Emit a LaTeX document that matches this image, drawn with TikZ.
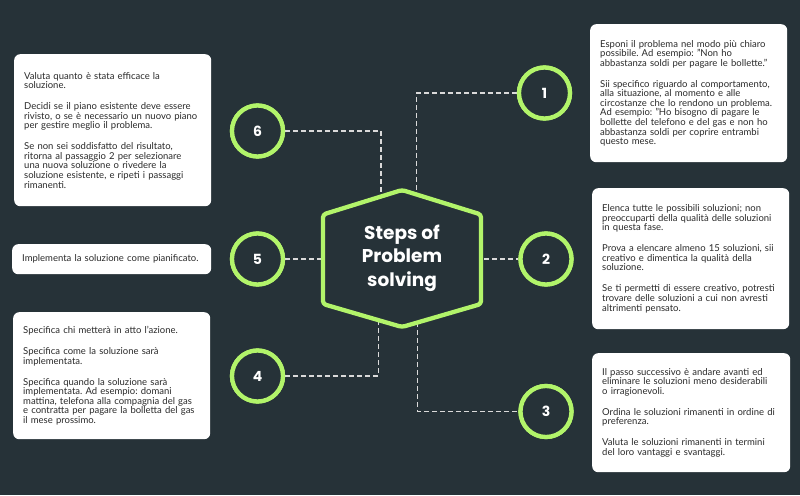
\documentclass[tikz,border=0pt]{standalone}
\usepackage{fontspec}
\setmainfont{Lato}
\newfontfamily\titlefont{Poppins}
\definecolor{bg}{HTML}{263238}
\definecolor{lime}{HTML}{B2F46A}
\definecolor{dashc}{HTML}{DADADA}
\definecolor{txt}{HTML}{2A2A2A}
\tikzset{
  numcirc/.style={circle, draw=lime, line width=4.3pt, fill=bg, minimum size=51pt, inner sep=0pt, text=white, font=\titlefont\bfseries\fontsize{14}{14}\selectfont},
  infobox/.style={fill=white, rounded corners=6pt, align=left, text=txt, font=\frenchspacing\fontsize{9.5}{9.6}\selectfont, inner xsep=10pt, inner ysep=0pt, anchor=north west},
  link/.style={draw=dashc, line width=1.1pt, dash pattern=on 5pt off 3pt},
  hexline/.style={draw=lime, line width=4.3pt, fill=bg, rounded corners=3pt, line join=round},
  titletext/.style={align=center, text=white, font=\titlefont\bfseries\fontsize{18.5}{23.5}\selectfont}
}
\newcommand{\pbreak}{\\[11.3pt]}
\begin{document}
\begin{tikzpicture}[x=1pt,y=-1pt]
\fill[bg] (0,0) rectangle (800,495);
\useasboundingbox (0,0) rectangle (800,495);

% hexagon geometry
\coordinate (hT) at (402,190);
\coordinate (hUR) at (481,214.5);
\coordinate (hLR) at (481,304);
\coordinate (hB) at (402,327);
\coordinate (hLL) at (323,304);
\coordinate (hUL) at (323,214.5);
% connector ends hidden under hexagon
\coordinate (h1) at (416.7,235);
\coordinate (h6) at (381,235);
\coordinate (h5) at (345,259);
\coordinate (h2) at (460,259);
\coordinate (h4) at (378.3,290);
\coordinate (h3) at (417.7,290);

% circles (placed first as names; drawn again on top)
\path (544.5,93) node[numcirc] (c1) {1}
      (546,259) node[numcirc] (c2) {2}
      (546,411.5) node[numcirc] (c3) {3}
      (257.5,376) node[numcirc] (c4) {4}
      (257.5,259) node[numcirc] (c5) {5}
      (257.5,131) node[numcirc] (c6) {6};

% connectors
\draw[link] (c1.west) -| (h1);
\draw[link] (c6.east) -| (h6);
\draw[link] (c5.east) -- (h5);
\draw[link] (h2) -- (c2.west);
\draw[link] (c4.east) -| (h4);
\draw[link] (h3) |- (c3.west);

% redraw circles over the connectors
\path (544.5,93) node[numcirc] {1}
      (546,259) node[numcirc] {2}
      (546,411.5) node[numcirc] {3}
      (257.5,376) node[numcirc] {4}
      (257.5,259) node[numcirc] {5}
      (257.5,131) node[numcirc] {6};

% hexagon
\draw[hexline] (hT) -- (hUR) -- (hLR) -- (hB) -- (hLL) -- (hUL) -- cycle;
\node[titletext] (hex) at (402,258) {Steps of\\Problem\\solving};

% boxes
\node[infobox, text width=177pt, minimum width=197pt, minimum height=152pt] (b6) at (14,54) {%
Valuta quanto è stata efficace la\\
soluzione.\pbreak
Decidi se il piano esistente deve essere\\
rivisto, o se è necessario un nuovo piano\\
per gestire meglio il problema.\pbreak
Se non sei soddisfatto del risultato,\\
ritorna al passaggio 2 per selezionare\\
una nuova soluzione o rivedere la\\
soluzione esistente, e ripeti i passaggi\\
rimanenti.};

\node[infobox, text width=177pt, minimum width=197pt, minimum height=138pt] (b1) at (590,24) {%
Esponi il problema nel modo più chiaro\\
possibile. Ad esempio: "Non ho\\
abbastanza soldi per pagare le bollette."\pbreak
Sii specifico riguardo al comportamento,\\
alla situazione, al momento e alle\\
circostanze che lo rendono un problema.\\
Ad esempio: "Ho bisogno di pagare le\\
bollette del telefono e del gas e non ho\\
abbastanza soldi per coprire entrambi\\
questo mese.};

\node[infobox, text width=177pt, minimum width=197pt, minimum height=141pt] (b2) at (592,188) {%
Elenca tutte le possibili soluzioni; non\\
preoccuparti della qualità delle soluzioni\\
in questa fase.\pbreak
Prova a elencare almeno 15 soluzioni, sii\\
creativo e dimentica la qualità della\\
soluzione.\pbreak
Se ti permetti di essere creativo, potresti\\
trovare delle soluzioni a cui non avresti\\
altrimenti pensato.};

\node[infobox, text width=179pt, minimum width=199pt, minimum height=30pt] (b5) at (12,244) {%
Implementa la soluzione come pianificato.};

\node[infobox, text width=177pt, minimum width=197pt, minimum height=127pt] (b4) at (13,312) {%
Specifica chi metterà in atto l'azione.\pbreak
Specifica come la soluzione sarà\\
implementata.\pbreak
Specifica quando la soluzione sarà\\
implementata. Ad esempio: domani\\
mattina, telefona alla compagnia del gas\\
e contratta per pagare la bolletta del gas\\
il mese prossimo.};

\node[infobox, text width=178pt, minimum width=198pt, minimum height=119pt] (b3) at (592,353) {%
Il passo successivo è andare avanti ed\\
eliminare le soluzioni meno desiderabili\\
o irragionevoli.\pbreak
Ordina le soluzioni rimanenti in ordine di\\
preferenza.\pbreak
Valuta le soluzioni rimanenti in termini\\
del loro vantaggi e svantaggi.};
\end{tikzpicture}
\end{document}
